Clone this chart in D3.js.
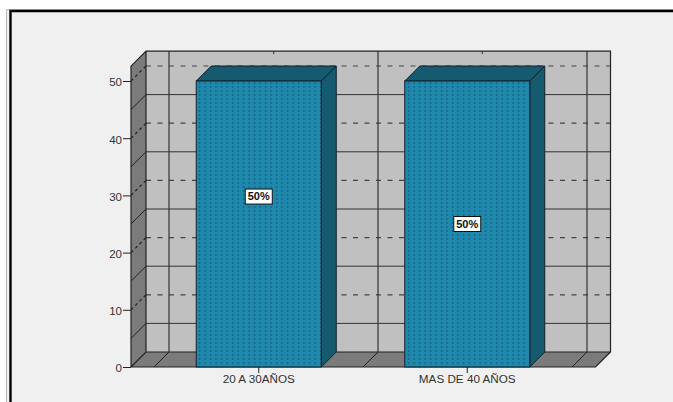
<!DOCTYPE html>
<html>
<head>
<meta charset="utf-8">
<script src="https://cdnjs.cloudflare.com/ajax/libs/d3/7.8.5/d3.min.js"></script>
<style>
html,body{margin:0;padding:0;background:#fff;overflow:hidden}
svg{display:block}
text{font-family:"Liberation Sans",Arial,sans-serif}
</style>
</head>
<body>
<svg id="chart" width="673" height="402"></svg>
<script>
// Values shown on the chart
const categories = ["20 A 30AÑOS", "MAS DE 40 AÑOS"];
const percentages = [50, 50];
const percentLabels = ["50%", "50%"];
const labelLevels = [29.8, 25];
const yTicks = [0, 10, 20, 30, 40, 50];
const minorLevels = [5, 15, 25, 35, 45];

const svg = d3.select("#chart");
const depth = 15;
const y = d3.scaleLinear().domain([0, 50]).range([367, 81]);
const yMax = 52.6;
const x = d3.scaleBand().domain(categories).range([154.5, 571.5]);
const barWidth = 125;
const plotLeft = 131, plotRight = 595.5;

// Chart area and outer frame
svg.append("rect").attr("x", 7).attr("y", 9).attr("width", 666).attr("height", 393).attr("fill", "#f0f0f0");
svg.append("path").attr("d", "M6.5 402V9.5H673").attr("fill", "none").attr("stroke", "#b8b8b8").attr("stroke-width", 1);
svg.append("path").attr("d", "M10.5 402V11H673").attr("fill", "none").attr("stroke", "#000").attr("stroke-width", 2.4);

// Dotted fill of the bar fronts: columns of small dark dots
const defs = svg.append("defs");
const dots = defs.append("pattern").attr("id", "dots").attr("patternUnits", "userSpaceOnUse")
  .attr("x", 197).attr("y", 81).attr("width", 5.5).attr("height", 4);
dots.append("rect").attr("width", 5.5).attr("height", 4).attr("fill", "#1f88ad");
dots.append("rect").attr("x", 2).attr("y", 1).attr("width", 1.2).attr("height", 2).attr("fill", "#175f78");

const plot = svg.append("g");
const yBack = v => y(v) - depth;
const line = (x1, y1, x2, y2, color, dash, width) => plot.append("line")
  .attr("x1", x1).attr("y1", y1).attr("x2", x2).attr("y2", y2)
  .attr("stroke", color).attr("stroke-width", width || 1).attr("stroke-dasharray", dash || null);

// Back wall, side wall and floor
plot.append("rect").attr("x", plotLeft + depth).attr("y", yBack(yMax))
  .attr("width", plotRight - plotLeft).attr("height", y(0) - y(yMax)).attr("fill", "#c0c0c0");
plot.append("path").attr("fill", "#7b7b7b")
  .attr("d", d3.line()([[plotLeft, y(0)], [plotLeft + depth, yBack(0)], [plotLeft + depth, yBack(yMax)], [plotLeft, y(yMax)]]) + "Z");
plot.append("path").attr("fill", "#7b7b7b")
  .attr("d", d3.line()([[plotLeft, y(0)], [plotLeft + depth, yBack(0)], [plotRight + depth, yBack(0)], [plotRight, y(0)]]) + "Z");

// Gridlines on the walls
yTicks.slice(1).forEach(v => {
  line(plotLeft + depth, yBack(v), plotRight + depth, yBack(v), "#444", "5 6.5", 1.2);
  line(plotLeft, y(v), plotLeft + depth, yBack(v), "#222", "3 3", 1.2);
});
minorLevels.forEach(v => {
  line(plotLeft + depth, yBack(v), plotRight + depth, yBack(v), "#333");
  line(plotLeft, y(v), plotLeft + depth, yBack(v), "#222");
});

// Vertical lines between categories, carried across the floor
const dividers = [169, 378, 587];
dividers.forEach(d => {
  line(d, yBack(yMax), d, yBack(0), "#333", null, 1.2);
  line(d, yBack(0), d - depth, y(0), "#222");
});
categories.forEach(c => {
  const centre = x(c) + x.bandwidth() / 2 + depth;
  line(centre, yBack(yMax), centre, yBack(yMax) + 5, "#333", "3 3");
});

// Wall outlines
plot.append("path").attr("fill", "none").attr("stroke", "#222").attr("stroke-width", 1.2)
  .attr("d", `M${plotLeft} ${y(0)}L${plotLeft} ${y(yMax)}L${plotLeft + depth} ${yBack(yMax)}L${plotRight + depth} ${yBack(yMax)}L${plotRight + depth} ${yBack(0)}L${plotRight} ${y(0)}L${plotLeft} ${y(0)}L${plotLeft + depth} ${yBack(0)}L${plotRight + depth} ${yBack(0)}M${plotLeft + depth} ${yBack(0)}L${plotLeft + depth} ${yBack(yMax)}`);

// Bars: side face, top face, then the dotted front
const bars = plot.selectAll("g.bar").data(categories.map((c, i) => ({ c, v: percentages[i], label: percentLabels[i], level: labelLevels[i] })))
  .join("g").attr("class", "bar");
const barLeft = d => x(d.c) + (x.bandwidth() - barWidth) / 2;
bars.append("path").attr("fill", "#165a70").attr("stroke", "#10202a").attr("stroke-width", 1)
  .attr("d", d => { const r = barLeft(d) + barWidth; return d3.line()([[r, y(d.v)], [r + depth, yBack(d.v)], [r + depth, yBack(0)], [r, y(0)]]) + "Z"; });
bars.append("path").attr("fill", "#165a70").attr("stroke", "#10202a").attr("stroke-width", 1)
  .attr("d", d => { const l = barLeft(d); return d3.line()([[l, y(d.v)], [l + depth, yBack(d.v)], [l + barWidth + depth, yBack(d.v)], [l + barWidth, y(d.v)]]) + "Z"; });
bars.append("rect").attr("x", barLeft).attr("y", d => y(d.v)).attr("width", barWidth).attr("height", d => y(0) - y(d.v))
  .attr("fill", "url(#dots)").attr("stroke", "#10202a").attr("stroke-width", 1);

// Value labels in white boxes
bars.append("rect").attr("x", d => barLeft(d) + barWidth / 2 - 13.5).attr("y", d => y(d.level) - 7.5)
  .attr("width", 27).attr("height", 15).attr("fill", "#fff").attr("stroke", "#111").attr("stroke-width", 1);
bars.append("text").attr("x", d => barLeft(d) + barWidth / 2).attr("y", d => y(d.level) + 3.8)
  .attr("text-anchor", "middle").attr("font-size", 11).attr("font-weight", "bold").attr("fill", "#111").text(d => d.label);

// Axes
const axisFont = '"Liberation Sans",Arial,sans-serif';
const yAxis = d3.axisLeft(y).tickValues(yTicks).tickSize(8).tickPadding(1);
const yG = svg.append("g").attr("transform", `translate(${plotLeft},0)`).call(yAxis);
yG.select(".domain").remove();
yG.selectAll("line").attr("stroke", "#222");
yG.selectAll("text").attr("font-size", 11.5).attr("dy", "0.42em").attr("fill", "#333").attr("font-family", axisFont);

const xAxis = d3.axisBottom(x).tickSize(6).tickPadding(2);
const xG = svg.append("g").attr("transform", `translate(0,${y(0)})`).call(xAxis);
xG.select(".domain").remove();
xG.selectAll("line").attr("stroke", "#222");
xG.selectAll("text").attr("font-size", 11.7).attr("fill", "#333").attr("font-family", axisFont);
</script>
</body>
</html>
